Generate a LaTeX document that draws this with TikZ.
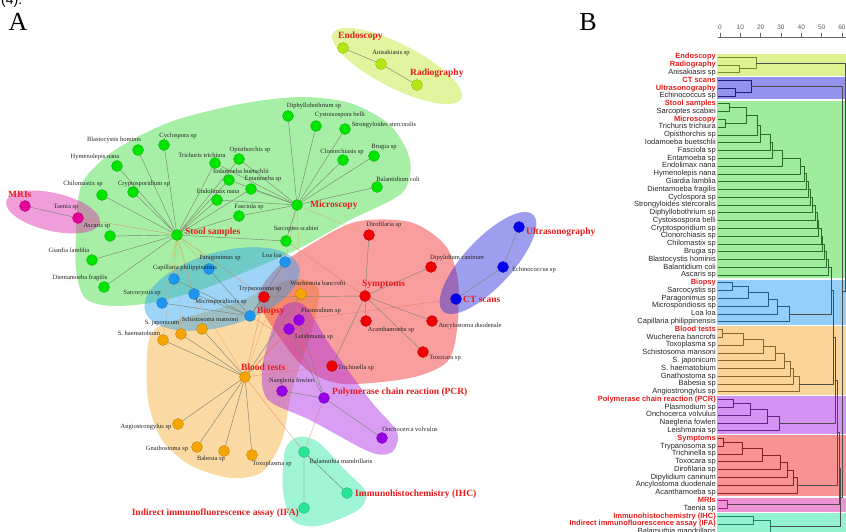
\documentclass[tikz,border=0pt]{standalone}
\usepackage{fontspec}
\setmainfont{Liberation Serif}
\setsansfont{Liberation Sans}
\usetikzlibrary{calc,backgrounds}

\definecolor{mred}{RGB}{232,28,28}
% node colours
\definecolor{nyg}{RGB}{180,230,20}
\definecolor{ngr}{RGB}{0,228,0}
\definecolor{nmg}{RGB}{228,0,150}
\definecolor{nbl}{RGB}{30,150,240}
\definecolor{nrd}{RGB}{240,0,0}
\definecolor{ncb}{RGB}{0,0,238}
\definecolor{nor}{RGB}{245,165,0}
\definecolor{npu}{RGB}{150,0,230}
\definecolor{ntl}{RGB}{40,230,150}
% hull colours
\definecolor{byg}{RGB}{190,230,40}
\definecolor{bgr}{RGB}{60,220,60}
\definecolor{bmg}{RGB}{220,40,170}
\definecolor{bbl}{RGB}{40,160,240}
\definecolor{brd}{RGB}{240,40,40}
\definecolor{bcb}{RGB}{40,40,220}
\definecolor{bor}{RGB}{245,170,50}
\definecolor{bpu}{RGB}{170,40,230}
\definecolor{btl}{RGB}{40,230,160}
% dendrogram line colours
\definecolor{dyg}{RGB}{110,140,40}
\definecolor{dgr}{RGB}{40,110,40}
\definecolor{dmg}{RGB}{170,30,130}
\definecolor{dbl}{RGB}{30,90,140}
\definecolor{drd}{RGB}{140,30,30}
\definecolor{dcb}{RGB}{30,30,120}
\definecolor{dor}{RGB}{140,100,40}
\definecolor{dpu}{RGB}{100,30,140}
\definecolor{dtl}{RGB}{30,130,100}
\definecolor{lngray}{RGB}{125,135,115}
\definecolor{lsal}{RGB}{235,110,90}
\definecolor{ltan}{RGB}{225,160,80}

\newcommand{\mt}[1]{\textcolor{mred}{\bfseries #1}}
% join two clusters at height #3 (px), new cluster #4, colour #5
\newcommand{\dmerge}[5]{%
  \draw[dl=#5] let \p1=(#1), \p2=(#2) in (\p1) -- (#3pt,\y1) -- (#3pt,\y2) -- (\p2);
  \path let \p1=(#1), \p2=(#2) in (#3pt,{0.5*(\y1+\y2)}) coordinate (#4);
}

\begin{document}
\begin{tikzpicture}[x=1pt,y=-1pt,line join=round,line cap=round,
  vert/.style={circle,minimum size=11pt,inner sep=0pt,line width=0.3pt,fill=#1,draw=#1!75!black},
  blob/.style={fill=#1,fill opacity=0.45},
  ln/.style={draw=lngray,line width=0.45pt},
  lx/.style={draw=#1,line width=0.45pt,draw opacity=0.6},
  sp/.style={font=\fontsize{6.5}{7}\selectfont,text=black!85,inner sep=0pt},
  meth/.style={font=\fontsize{9.5}{10}\selectfont\bfseries,text=mred,inner sep=0pt},
  rowlab/.style={anchor=east,font=\sffamily\fontsize{7.5}{8}\selectfont,text=black!85,
    inner sep=0pt,text height=5.4pt,text depth=1.6pt},
  dl/.style={draw=#1,line width=0.5pt},
  panel/.style={font=\fontsize{26}{26}\selectfont,inner sep=0pt}]
\useasboundingbox (0,0) rectangle (846,531);

\node[anchor=base west,font=\sffamily\fontsize{14}{14}\selectfont,inner sep=0pt] (cap) at (1,4) {(4).};
\node[panel] (pa) at (18,22) {A};
\node[panel] (pb) at (588,22) {B};

%%% A: network
% endoscopy / radiography
\node[vert=nyg] (endo) at (343,48) {};
\node[meth,anchor=west] (endo-t) at (338,36) {Endoscopy};
\node[vert=nyg] (radio) at (417,85) {};
\node[meth,anchor=west] (radio-t) at (410,73) {Radiography};
\node[vert=nyg] (anis) at (381,64) {};
\node[sp] (anis-t) at (391,53) {Anisakiasis sp};

% stool samples / microscopy
\node[vert=ngr] (ss) at (177,235) {};
\node[meth,anchor=west] (ss-t) at (185,232) {Stool samples};
\node[vert=ngr] (mic) at (297,205) {};
\node[meth,anchor=west] (mic-t) at (310,205) {Microscopy};
\foreach \n/\x/\y/\lx/\ly/\t in {diph/288/116/314/106/Diphyllobothrium sp,
  cyst/316/126/340/115/Cystoisospora belli, stro/345/129/384/125/Strongyloides stercoralis,
  clon/343/160/342/152/Clonorchiasis sp, brug/374/156/384/147/Brugia sp,
  bala/377/187/398/179/Balantidium coli, opis/239/159/250/150/Opisthorchis sp,
  tric/215/163/202/155/Trichuris trichiura, ioda/229/180/241/171/Iodamoeba buetschlii,
  enta/251/189/263/179/Entamoeba sp, endl/217/200/218/191/Endolimax nana,
  fasc/239/216/249/207/Fasciola sp, cycl/164/145/178/136/Cyclospora sp,
  blas/138/150/114/140/Blastocystis hominis, hyme/117/166/95/157/Hymenolepis nana,
  chil/102/195/83/184/Chilomastix sp, cryp/133/192/144/184/Cryptosporidium sp,
  asca/110/236/97/226/Ascaris sp, giar/92/260/69/250/Giardia lamblia,
  dien/104/287/80/278/Dientamoeba fragilis, sarc/286/241/296/229/Sarcoptes scabiei}{
  \node[vert=ngr] (\n) at (\x,\y) {};
  \node[sp] (\n-t) at (\lx,\ly) {\t};
}

% MRIs
\node[vert=nmg] (mri) at (25,206) {};
\node[meth,anchor=west] (mri-t) at (8,194) {MRIs};
\node[vert=nmg] (taen) at (78,218) {};
\node[sp] (taen-t) at (66,207) {Taenia sp};

% biopsy
\node[vert=nbl] (bio) at (250,316) {};
\node[meth,anchor=west] (bio-t) at (257,311) {Biopsy};
\foreach \n/\x/\y/\lx/\ly/\t in {loa/285/262/272/255/Loa loa,
  para/209/269/220/258/Paragonimus sp, capi/174/279/185/268/Capillaria philippinensis,
  sarcy/162/303/142/293/Sarcocystis sp, micr/194/294/221/302/Microsporidiosis sp}{
  \node[vert=nbl] (\n) at (\x,\y) {};
  \node[sp] (\n-t) at (\lx,\ly) {\t};
}

% symptoms
\node[vert=nrd] (sym) at (365,296) {};
\node[meth,anchor=west] (sym-t) at (362,284) {Symptoms};
\foreach \n/\x/\y/\lx/\ly/\t in {tryp/264/297/260/289/Trypanosoma sp,
  diro/369/235/384/225/Dirofilaria sp, dipy/431/267/457/258/Dipylidium caninum,
  acan/366/321/391/330/Acanthamoeba sp, ancy/432/321/470/326/Ancylostoma duodenale,
  toxo/423/352/445/358/Toxocara sp, trin/332/366/356/368/Trichinella sp}{
  \node[vert=nrd] (\n) at (\x,\y) {};
  \node[sp] (\n-t) at (\lx,\ly) {\t};
}

% CT scans / ultrasonography
\node[vert=ncb] (ct) at (456,299) {};
\node[meth,anchor=west] (ct-t) at (463,299) {CT scans};
\node[vert=ncb] (ultr) at (519,227) {};
\node[meth,anchor=west] (ultr-t) at (526,232) {Ultrasonography};
\node[vert=ncb] (echi) at (503,267) {};
\node[sp] (echi-t) at (534,270) {Echinococcus sp};

% blood tests
\node[vert=nor] (bt) at (245,377) {};
\node[meth,anchor=west] (bt-t) at (241,367) {Blood tests};
\foreach \n/\x/\y/\lx/\ly/\t in {wuch/301/294/318/283/Wuchereria bancrofti,
  schm/202/329/210/319/Schistosoma mansoni, sjap/181/334/162/323/S. japonicum,
  shae/163/340/139/333/S. haematobium, angi/178/424/146/427/Angiostrongylus sp,
  gnat/197/447/167/449/Gnathostoma sp, babe/224/451/211/459/Babesia sp,
  toxp/252/455/272/464/Toxoplasma sp}{
  \node[vert=nor] (\n) at (\x,\y) {};
  \node[sp] (\n-t) at (\lx,\ly) {\t};
}

% PCR
\node[vert=npu] (pcr) at (324,398) {};
\node[meth,anchor=west] (pcr-t) at (332,392) {Polymerase chain reaction (PCR)};
\foreach \n/\x/\y/\lx/\ly/\t in {plas/299/320/321/311/Plasmodium sp,
  leis/289/329/314/337/Leishmania sp, naeg/282/391/292/381/Naegleria fowleri,
  onch/382/438/410/429/Onchocerca volvulus}{
  \node[vert=npu] (\n) at (\x,\y) {};
  \node[sp] (\n-t) at (\lx,\ly) {\t};
}

% IHC / IFA
\node[vert=ntl] (bal) at (304,452) {};
\node[sp] (bal-t) at (341,461) {Balamuthia mandrillaris};
\node[vert=ntl] (ihc) at (347,493) {};
\node[meth,anchor=west] (ihc-t) at (355,494) {Immunohistochemistry (IHC)};
\node[vert=ntl] (ifa) at (304,508) {};
\node[meth,anchor=east] (ifa-t) at (299,513) {Indirect immunofluorescence assay (IFA)};

\begin{scope}[on background layer]
  % hulls
  \fill[blob=bgr] plot[smooth cycle] coordinates {(85,178) (115,150) (170,122) (240,104)
    (300,97) (350,103) (390,125) (410,160) (402,193) (350,220) (300,248) (250,270)
    (200,290) (150,303) (110,306) (85,298) (76,270) (76,230) (78,200)};
  \fill[blob=byg,rotate around={-27:(397,66)}] (397,66) ellipse [x radius=72pt,y radius=22pt];
  \fill[blob=bmg,rotate around={-13:(53,212)}] (53,212) ellipse [x radius=48pt,y radius=19pt];
  \fill[blob=bor] plot[smooth cycle] coordinates {(148,345) (162,325) (230,305) (290,280)
    (318,288) (312,330) (292,390) (282,440) (262,472) (230,478) (190,465) (162,440) (148,400)};
  \fill[blob=brd] plot[smooth cycle] coordinates {(258,300) (275,270) (305,248) (355,222)
    (410,222) (445,245) (458,280) (457,330) (447,362) (410,378) (345,384) (310,372) (285,345)};
  \fill[blob=bpu] plot[smooth cycle] coordinates {(285,305) (305,306) (330,345) (370,400)
    (397,432) (392,452) (370,452) (310,420) (268,400) (262,370) (272,330)};
  \fill[blob=bbl,rotate around={16:(222,289)}] (222,289) ellipse [x radius=80pt,y radius=37pt];
  \fill[blob=bcb,rotate around={47:(488,263)}] (488,263) ellipse [x radius=66pt,y radius=24pt];
  \fill[blob=btl] plot[smooth cycle] coordinates {(298,437) (318,442) (345,470) (366,492)
    (358,510) (318,526) (292,520) (283,490) (285,450)};

  % edges
  \draw[ln] (endo) -- (anis) -- (radio);
  \draw[ln] (mri) -- (taen);
  \draw[lx=lsal] (taen) -- (ss);
  \foreach \b in {cycl,blas,hyme,chil,cryp,asca,giar,dien,tric,ioda,endl,enta,fasc,opis,sarc}
    \draw[ln] (ss) -- (\b);
  \foreach \b in {capi,para,sarcy,micr,schm,sjap,shae}
    \draw[lx=ltan] (ss) -- (\b);
  \draw[lx=lsal] (ss) -- (tryp);
  \foreach \b in {diph,cyst,stro,clon,brug,bala,opis,enta,ioda,tric,endl,fasc,sarc}
    \draw[ln] (mic) -- (\b);
  \foreach \b in {loa,wuch,diro}
    \draw[lx=ltan] (mic) -- (\b);
  \draw[lx=lsal] (sarc) -- (sym);
  \foreach \b in {loa,para,capi,sarcy,micr,tryp}
    \draw[ln] (bio) -- (\b);
  \draw[lx=lsal] (bio) -- (trin);
  \foreach \b in {wuch,schm,sjap,shae,angi,gnat,babe,toxp}
    \draw[ln] (bt) -- (\b);
  \foreach \b in {tryp,plas,leis,trin,bal}
    \draw[lx=lsal] (bt) -- (\b);
  \foreach \b in {loa,micr}
    \draw[lx=ltan] (bt) -- (\b);
  \foreach \b in {diro,dipy,acan,ancy,toxo,trin,tryp}
    \draw[ln] (sym) -- (\b);
  \draw[ln] (ct) -- (echi) -- (ultr);
  \draw[lx=lsal] (ct) -- (plas);
  \foreach \b in {plas,leis,naeg,onch}
    \draw[ln] (pcr) -- (\b);
  \draw[lx=lsal] (pcr) -- (bal);
  \draw[ln] (ihc) -- (bal) -- (ifa);
\end{scope}

%%% B: dendrogram
% group bands
\foreach \a/\b/\c in {1/3/byg,4/6/bcb,7/29/bgr,30/35/bbl,36/44/bor,45/49/bpu,50/57/brd,58/59/bmg,60/62/btl}
  \fill[fill=\c!50!white] (717,{57+(\a-1)*7.783-3.1}) rectangle (846,{57+(\b-1)*7.783+3.1});

% scale
\draw[black!60,line width=0.5pt] (718,37) -- (846,37);
\foreach \v [count=\k from 0] in {0,10,20,30,40,50,60}{
  \draw[black!60,line width=0.5pt] ({720+20.33*\k},37) -- ({720+20.33*\k},33);
  \node[font=\sffamily\fontsize{6.5}{7}\selectfont,text=black!65,inner sep=0pt] (tk\k) at ({720+20.33*\k},27) {\v};
}

% leaves
\foreach \t [count=\i] in {\mt{Endoscopy},\mt{Radiography},Anisakiasis sp,\mt{CT scans},
  \mt{Ultrasonography},Echinococcus sp,\mt{Stool samples},Sarcoptes scabiei,\mt{Microscopy},
  Trichuris trichiura,Opisthorchis sp,Iodamoeba buetschlii,Fasciola sp,Entamoeba sp,
  Endolimax nana,Hymenolepis nana,Giardia lamblia,Dientamoeba fragilis,Cyclospora sp,
  Strongyloides stercoralis,Diphyllobothrium sp,Cystoisospora belli,Cryptosporidium sp,
  Clonorchiasis sp,Chilomastix sp,Brugia sp,Blastocystis hominis,Balantidium coli,Ascaris sp,
  \mt{Biopsy},Sarcocystis sp,Paragonimus sp,Microsporidiosis sp,Loa loa,Capillaria philippinensis,
  \mt{Blood tests},Wuchereria bancrofti,Toxoplasma sp,Schistosoma mansoni,S. japonicum,
  S. haematobium,Gnathostoma sp,Babesia sp,Angiostrongylus sp,
  \mt{Polymerase chain reaction (PCR)},Plasmodium sp,Onchocerca volvulus,Naegleria fowleri,
  Leishmania sp,\mt{Symptoms},Trypanosoma sp,Trichinella sp,Toxocara sp,Dirofilaria sp,
  Dipylidium caninum,Ancylostoma duodenale,Acanthamoeba sp,\mt{MRIs},Taenia sp,
  \mt{Immunohistochemistry (IHC)},\mt{Indirect immunofluorescence assay (IFA)},
  Balamuthia mandrillaris}{
  \node[rowlab] (r\i) at (716,{57+(\i-1)*7.783}) {\t};
  \coordinate (l\i) at (718,{57+(\i-1)*7.783});
}

% clusters
\dmerge{l2}{l3}{739}{g1a}{dyg}
\dmerge{l1}{g1a}{756}{G1}{dyg}
\dmerge{l5}{l6}{735}{g2a}{dcb}
\dmerge{l4}{g2a}{751}{G2}{dcb}
\dmerge{l7}{l8}{729}{g3a}{dgr}
\dmerge{l9}{l10}{725}{g3b}{dgr}
\dmerge{g3a}{g3b}{746}{g3-10}{dgr}
\foreach \i/\h [remember=\i as \j (initially 10)] in {11/757,12/760,13/770,14/772,15/782,
  16/800,17/804,18/806,19/808,20/810,21/812,22/815,23/817,24/818,25/821,26/822,27/824,28/826,29/828}
  {\dmerge{g3-\j}{l\i}{\h}{g3-\i}{dgr}}
\dmerge{l30}{l31}{732}{g4-31}{dbl}
\foreach \i/\h [remember=\i as \j (initially 31)] in {32/748,33/768,34/777,35/789}
  {\dmerge{g4-\j}{l\i}{\h}{g4-\i}{dbl}}
\dmerge{l36}{l37}{722}{g5-37}{dor}
\foreach \i/\h [remember=\i as \j (initially 37)] in {38/743,39/763,40/775,41/784,42/790,43/793,44/799}
  {\dmerge{g5-\j}{l\i}{\h}{g5-\i}{dor}}
\dmerge{l45}{l46}{733}{g6-46}{dpu}
\foreach \i/\h [remember=\i as \j (initially 46)] in {47/750,48/767,49/779}
  {\dmerge{g6-\j}{l\i}{\h}{g6-\i}{dpu}}
\dmerge{l50}{l51}{723}{g7-51}{drd}
\foreach \i/\h [remember=\i as \j (initially 51)] in {52/742,53/762,54/780,55/787,56/793,57/797}
  {\dmerge{g7-\j}{l\i}{\h}{g7-\i}{drd}}
\dmerge{l58}{l59}{727}{G8}{dmg}
\dmerge{l60}{l61}{753}{g9-61}{dtl}
\dmerge{g9-61}{l62}{770}{g9-62}{dtl}

% top level
\dmerge{g3-29}{g4-35}{831}{T1}{black!70}
\dmerge{T1}{g5-44}{833}{T2}{black!70}
\dmerge{T2}{g6-49}{835}{T3}{black!70}
\dmerge{T3}{g7-57}{837}{T4}{black!70}
\dmerge{T4}{G8}{839}{T5}{black!70}
\dmerge{T5}{g9-62}{840}{T6}{black!70}
\dmerge{T6}{G2}{842}{T7}{black!70}
\dmerge{T7}{G1}{845}{T8}{black!70}
\end{tikzpicture}
\end{document}
